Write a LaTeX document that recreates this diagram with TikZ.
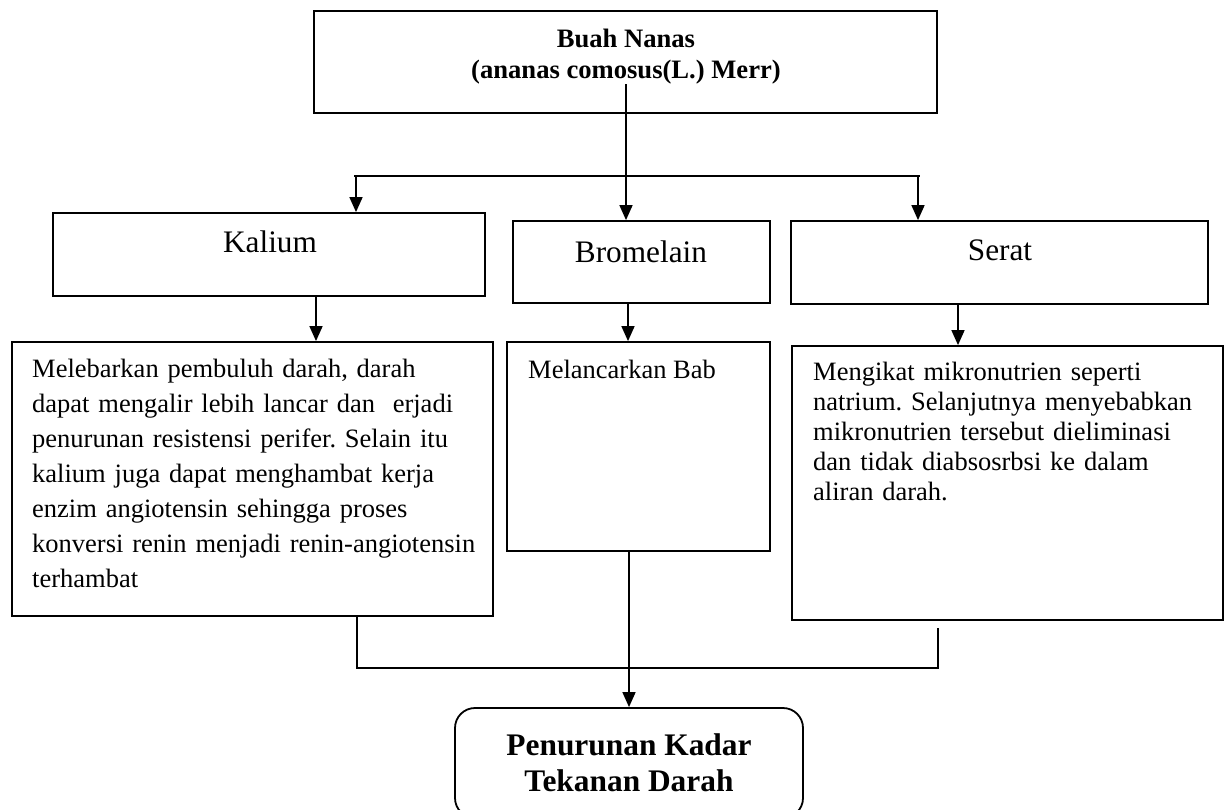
\documentclass[tikz,border=0pt]{standalone}
\usepackage{fontspec}
\setmainfont{Liberation Serif}
\usetikzlibrary{arrows.meta}
\frenchspacing

\begin{document}
\begin{tikzpicture}[x=1pt, y=-1pt,
    kotak/.style={draw, line width=1.8pt, inner sep=0pt},
    garis/.style={line width=1.6pt},
    panah/.style={garis, -{Triangle[width=13pt,length=15pt]}},
    judul/.style={font=\fontsize{31.3}{36}\selectfont, anchor=base, inner sep=0pt},
    isi/.style={font=\fontsize{26.5}{35}\selectfont, anchor=north west, inner sep=0pt, align=left}]
    \useasboundingbox (0,0) rectangle (1225,810);

    \node[kotak, minimum width=623pt, minimum height=102pt] (nanas) at (625.5,62) {};
    \node[font=\fontsize{26.6}{31}\selectfont\bfseries, align=center, inner sep=0pt] (nanastxt) at (626,56.5) {Buah Nanas\\(ananas comosus(L.) Merr)};

    \node[kotak, minimum width=432pt, minimum height=83pt] (kalium) at (269,254.5) {};
    \node[kotak, minimum width=257pt, minimum height=82pt] (bromelain) at (641.5,262) {};
    \node[kotak, minimum width=417pt, minimum height=83pt] (serat) at (999.5,262.5) {};

    \node[judul] (kaliumlbl) at (270,253) {Kalium};
    \node[judul] (bromelainlbl) at (641,262) {Bromelain};
    \node[judul] (seratlbl) at (1000,260) {Serat};

    \node[kotak, minimum width=481pt, minimum height=274pt] (efek1) at (252.5,479) {};
    \node[kotak, minimum width=263pt, minimum height=209pt] (bab) at (638.5,446.5) {};
    \node[kotak, minimum width=431pt, minimum height=274pt] (efek3) at (1007.5,483) {};

    \node[isi, text width=455pt] (efek1txt) at (32,358.9) {Melebarkan pembuluh darah, darah\\dapat mengalir lebih lancar dan~ erjadi\\penurunan resistensi perifer. Selain itu\\kalium juga dapat menghambat kerja\\enzim angiotensin sehingga proses\\konversi renin menjadi renin-angiotensin\\terhambat};
    \node[isi, anchor=base west] (babtxt) at (528,378) {Melancarkan Bab};
    \node[isi, text width=400pt, font=\fontsize{26.5}{30}\selectfont] (efek3txt) at (813,361.9) {Mengikat mikronutrien seperti\\natrium. Selanjutnya menyebabkan\\mikronutrien tersebut dieliminasi\\dan tidak diabsosrbsi ke dalam\\aliran darah.};

    \node[kotak, rounded corners=20pt, minimum width=348pt, minimum height=110pt, align=center, font=\fontsize{31.4}{36}\selectfont\bfseries] (goal) at (629,763) {Penurunan Kadar\\Tekanan Darah};

    \coordinate (cabangK) at (356,176);
    \coordinate (cabangS) at (918,176);
    \draw[garis] ([xshift=-2pt]cabangK) -- ([xshift=2pt]cabangS);
    \draw[garis] (nanastxt.south) -- (nanastxt.south |- cabangK);
    \draw[panah] (nanastxt.south |- cabangK) -- (nanastxt.south |- bromelain.north);
    \draw[panah] (cabangK) -- (cabangK |- kalium.north);
    \draw[panah] (cabangS) -- (cabangS |- serat.north);

    \draw[panah] ([xshift=47pt]kalium.south) -- ([xshift=47pt]kalium.south |- efek1.north);
    \draw[panah] ([xshift=-13.5pt]bromelain.south) -- ([xshift=-13.5pt]bromelain.south |- bab.north);
    \draw[panah] ([xshift=-41.5pt]serat.south) -- ([xshift=-41.5pt]serat.south |- efek3.north);

    \coordinate (gabungK) at (357,668);
    \coordinate (gabungS) at (938,668);
    \coordinate (ujungS) at (938,628);
    \draw[garis] (gabungK |- efek1.south) -- (gabungK) -- (gabungS) -- (ujungS);
    \draw[panah] (bab.south -| goal.north) -- (goal.north);
\end{tikzpicture}
\end{document}
